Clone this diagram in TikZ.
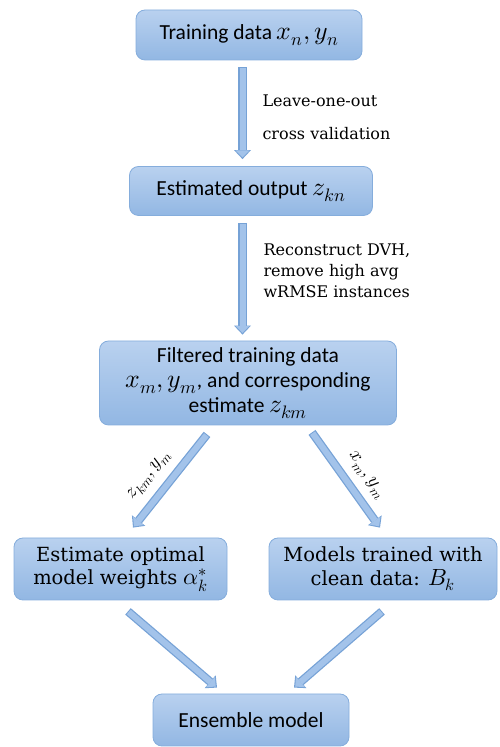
\documentclass[tikz,border=0pt]{standalone}
\usepackage{unicode-math}
\setmainfont{Carlito}
\setmathfont{Latin Modern Math}[Scale=1.2]
\newfontfamily\serifface{DejaVu Serif}
\usetikzlibrary{arrows.meta,positioning}
\definecolor{boxtop}{HTML}{B9D1EF}
\definecolor{boxbot}{HTML}{92B7E3}
\definecolor{boxedge}{HTML}{85ADDC}
\definecolor{arrfill}{HTML}{A3C3EA}
\definecolor{arredge}{HTML}{76A2D6}

\begin{document}
\begin{tikzpicture}[x=1pt,y=1pt,
  stepbox/.style={draw=boxedge,line width=0.8pt,rounded corners=9pt,top color=boxtop,bottom color=boxbot,align=center,inner sep=4pt,font=\fontsize{21.5}{25}\selectfont},
  serifbox/.style={stepbox,font=\serifface\fontsize{19.5}{23.5}\selectfont},
  edgelabel/.style={font=\serifface\fontsize{16}{20}\selectfont,align=left},
  blockarr/.style={line width=8.5pt,draw=arredge,-{Triangle[length=9pt,width=17pt,line width=0pt]},
    postaction={draw=arrfill,line width=6pt,shorten >=1.6pt,shorten <=1pt,-{Triangle[length=7pt,width=13.5pt,line width=0pt]}}}]
\useasboundingbox (0,0) rectangle (500,747);
\node[stepbox,minimum width=226pt,minimum height=50pt] (train) at (249,712){Training data $x_n, y_n$};
\node[stepbox,minimum width=243pt,minimum height=49pt] (est) at (251,556){Estimated output $z_{kn}$};
\node[stepbox,minimum width=297pt,minimum height=84pt] (filt) at (248,364){Filtered training data\\$x_m, y_m$, and corresponding\\estimate $z_{km}$};
\node[serifbox,minimum width=213pt,minimum height=62pt] (wts) at (120.5,178){Estimate optimal\\model weights $\alpha_k^*$};
\node[serifbox,minimum width=228pt,minimum height=62pt] (mods) at (383,178){Models trained with\\clean data: $B_k$};
\node[stepbox,minimum width=196pt,minimum height=52pt] (ens) at (251,27){Ensemble model};
% vertical steps
\draw[blockarr] ([xshift=-6.5pt,yshift=-7pt]train.south) -- ([xshift=-8.5pt,yshift=7pt]est.north);
\node[edgelabel,anchor=west] (loo) at (259,630){Leave-one-out\\[13pt]cross validation};
\draw[blockarr] ([xshift=-8.5pt,yshift=-7pt]est.south) -- ([xshift=-5.5pt,yshift=6pt]filt.north);
\node[edgelabel,anchor=west,font=\serifface\fontsize{16}{21}\selectfont] (dvh) at (260,476){Reconstruct DVH,\\remove high avg\\wRMSE instances};
% split and merge
\draw[blockarr] ([xshift=-41pt,yshift=-9pt]filt.south) -- node[pos=0.57,sloped,above=5pt,font=\fontsize{16}{18}\selectfont]{$z_{km}, y_m$} ([xshift=12.5pt,yshift=10pt]wts.north);
\draw[blockarr] ([xshift=64pt,yshift=-7pt]filt.south) -- node[pos=0.57,sloped,above=5pt,font=\fontsize{16}{18}\selectfont]{$x_m, y_m$} ([xshift=-3pt,yshift=10pt]mods.north);
\draw[blockarr] ([xshift=7.5pt,yshift=-11pt]wts.south) -- ([xshift=-34pt,yshift=6pt]ens.north);
\draw[blockarr] ([xshift=-1pt,yshift=-11pt]mods.south) -- ([xshift=43pt,yshift=6pt]ens.north);
\end{tikzpicture}
\end{document}
